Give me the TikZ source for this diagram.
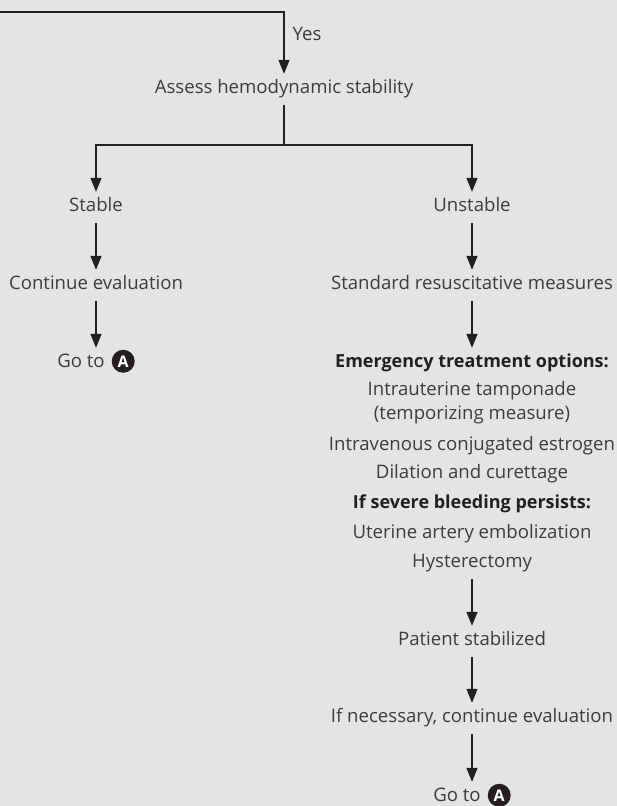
\documentclass[tikz,border=0pt]{standalone}
\usepackage{fontspec}
\setmainfont{Open Sans}
\usepackage{tikz}
\usetikzlibrary{arrows.meta,positioning}
\definecolor{panelgray}{HTML}{E4E4E6}
\definecolor{inkgray}{HTML}{3C3C3E}
\definecolor{inkdark}{HTML}{231F20}
\newcommand{\markA}{\tikz[baseline=(m.base)]\node[circle, fill=inkdark, text=white,
  inner sep=0pt, minimum size=23pt, font=\fontsize{16}{16}\selectfont\bfseries] (m) {A};}
\tikzset{
  flowbase/.style={
    text=inkgray, font=\fontsize{18.6}{24}\selectfont,
    inner xsep=2pt, inner ysep=6pt},
  flowtext/.style={
    flowbase, text height=13pt, text depth=3pt},
  flowtext_head/.style={
    flowtext, text=inkdark, font=\fontsize{18}{24}\selectfont\bfseries},
  flowline/.style={
    draw=inkdark, line width=1.4pt},
  flowarrow/.style={
    flowline, -{Triangle[length=14pt, width=11pt]}, shorten <=3pt},
  flowlabel/.style={text=inkgray, font=\fontsize{18.6}{20}\selectfont, inner sep=0pt},
}

\begin{document}
\begin{tikzpicture}[x=1pt, y=-1pt, node distance=78pt, on grid]
  \path[fill=panelgray, use as bounding box] (0,0) rectangle (617,806);
  \coordinate (entry) at (0,12);
  \node[flowtext]                     (assess)  at (284,88) {Assess hemodynamic stability};
  \coordinate[below=57pt of assess]   (split);
  \node[flowtext]                     (stable)  at (96,206) {Stable};
  \node[flowtext, right=376pt of stable] (unstable) {Unstable};
  % stable branch
  \node[flowtext, below=of stable]    (contL)   {Continue evaluation};
  \node[flowtext, below=of contL]     (gotoL)   {Go to\hspace{0.12em} \markA};
  % unstable branch
  \node[flowtext, below=of unstable]  (resus)   {Standard resuscitative measures};
  \node[flowtext_head, below=of resus] (emerg)  {Emergency treatment options:};
  \node[flowbase, align=center, below=41pt of emerg] (tamp) {Intrauterine tamponade\\(temporizing measure)};
  \node[flowtext, below=42pt of tamp] (estro)   {Intravenous conjugated estrogen};
  \node[flowtext, below=28pt of estro] (dandc)  {Dilation and curettage};
  \node[flowtext_head, below=30pt of dandc] (severe) {If severe bleeding persists:};
  \node[flowtext, below=30pt of severe] (uae)   {Uterine artery embolization};
  \node[flowtext, below=29pt of uae]  (hyst)    {Hysterectomy};
  \node[flowtext, below=of hyst]      (stab)    {Patient stabilized};
  \node[flowtext, below=77pt of stab] (ifnec)   {If necessary, continue evaluation};
  \node[flowtext, below=79pt of ifnec] (gotoR)  {Go to\hspace{0.12em} \markA};

  \draw[flowarrow, shorten <=0pt] (entry) -| (assess.north)
    node[flowlabel, pos=0.68, anchor=west, xshift=8pt] {Yes};
  \draw[flowline, shorten <=3pt] (assess.south) -- (split);
  \draw[flowarrow, shorten <=0pt] (split) -| (stable.north);
  \draw[flowarrow, shorten <=0pt] (split) -| (unstable.north);
  \draw[flowarrow] (stable.south) -- (contL.north);
  \draw[flowarrow] (contL.south) -- (gotoL.north);
  \draw[flowarrow] (unstable.south) -- (resus.north);
  \draw[flowarrow] (resus.south) -- (emerg.north);
  \draw[flowarrow] (hyst.south) -- (stab.north);
  \draw[flowarrow] (stab.south) -- (ifnec.north);
  \draw[flowarrow] (ifnec.south) -- (gotoR.north);
\end{tikzpicture}
\end{document}
